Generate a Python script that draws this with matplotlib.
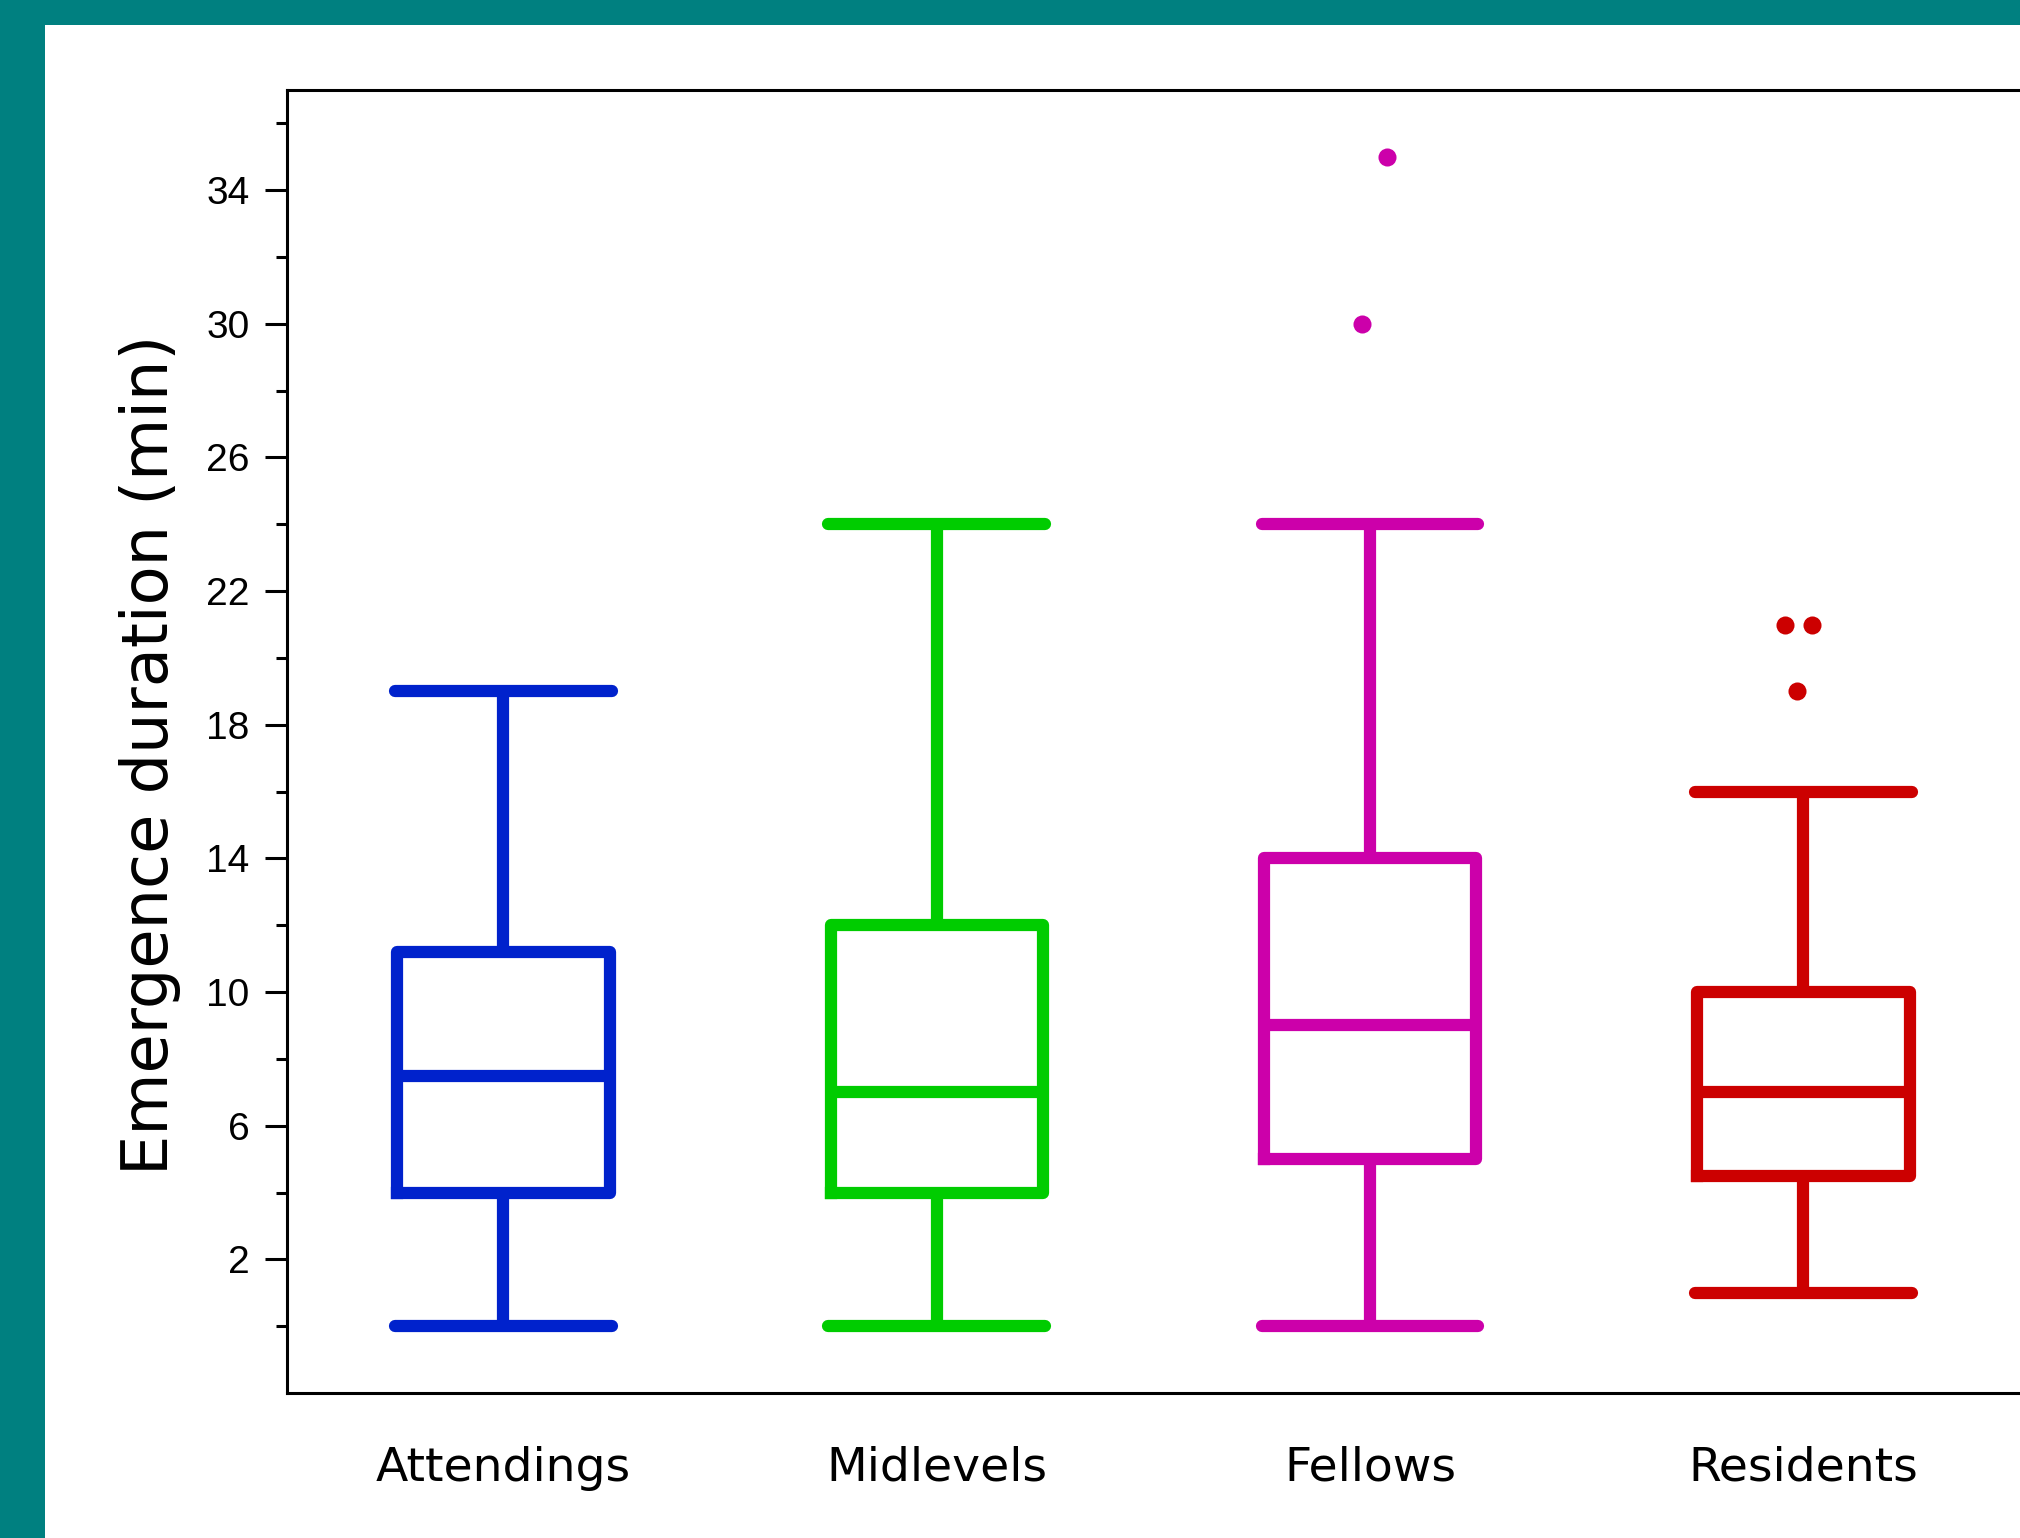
import matplotlib
matplotlib.use("Agg")
import matplotlib.pyplot as plt
from matplotlib.patches import Rectangle

groups = ["Attendings", "Midlevels", "Fellows", "Residents"]
colors = ["#0022cc", "#00cc00", "#cc00aa", "#cc0000"]
whislo = [0, 0, 0, 1]
q1 = [4, 4, 5, 4.5]
med = [7.5, 7, 9, 7]
q3 = [11.2, 12, 14, 10]
whishi = [19, 24, 24, 16]
fliers = [[], [], [35, 30], [21, 21, 19]]
flier_jitter = [[], [], [0.039, -0.018], [-0.042, 0.021, -0.015]]

fig = plt.figure(figsize=(20.2, 15.38), dpi=100, facecolor="#008080")
fig.add_artist(Rectangle((45 / 2020, 0), 1, 1 - 25 / 1538, transform=fig.transFigure,
                         facecolor="white", edgecolor="none", zorder=0))
ax = fig.add_axes([0.142, 0.0943, 0.858, 0.8472])
ax.set_facecolor("white")

lw = 8.8
stats = []
for i, g in enumerate(groups):
    stats.append(dict(label=g, whislo=whislo[i], q1=q1[i], med=med[i],
                      q3=q3[i], whishi=whishi[i], fliers=[]))

pos = list(range(1, len(groups) + 1))
bp = ax.bxp(stats, positions=pos, widths=0.49, capwidths=0.5, showfliers=False,
            boxprops=dict(linewidth=lw, solid_joinstyle="round"),
            medianprops=dict(linewidth=lw, solid_capstyle="butt"),
            whiskerprops=dict(linewidth=lw, solid_capstyle="butt"),
            capprops=dict(linewidth=lw, solid_capstyle="round"))

for i, c in enumerate(colors):
    bp["boxes"][i].set_color(c)
    bp["medians"][i].set_color(c)
    for art in bp["whiskers"][2 * i:2 * i + 2] + bp["caps"][2 * i:2 * i + 2]:
        art.set_color(c)
    xs = [pos[i] + d for d in flier_jitter[i]]
    ax.plot(xs, fliers[i], "o", color=c, markersize=13, markeredgewidth=0)

ax.set_xlim(0.5, 4.5)
ax.set_ylim(-2, 37)
ax.set_yticks(range(2, 35, 4))
ax.set_yticks(range(0, 37, 4), minor=True)
ax.set_xticks(pos)
ax.set_xticklabels(groups, fontsize=34, family="DejaVu Sans")
ax.tick_params(axis="x", length=0, pad=38)
ax.tick_params(axis="y", which="major", length=16, width=2.2, pad=11,
               labelsize=28)
ax.tick_params(axis="y", which="minor", length=8, width=2.2)
for t in ax.get_yticklabels():
    t.set_family("Liberation Sans")

for s in ["left", "bottom", "top"]:
    ax.spines[s].set_linewidth(2.2)
ax.spines["right"].set_visible(False)

ax.set_ylabel("Emergence duration (min)", fontsize=46, family="DejaVu Sans",
              labelpad=18)
ax.yaxis.label.set_y(0.49)

fig.savefig("out.png", dpi=100, facecolor=fig.get_facecolor())
